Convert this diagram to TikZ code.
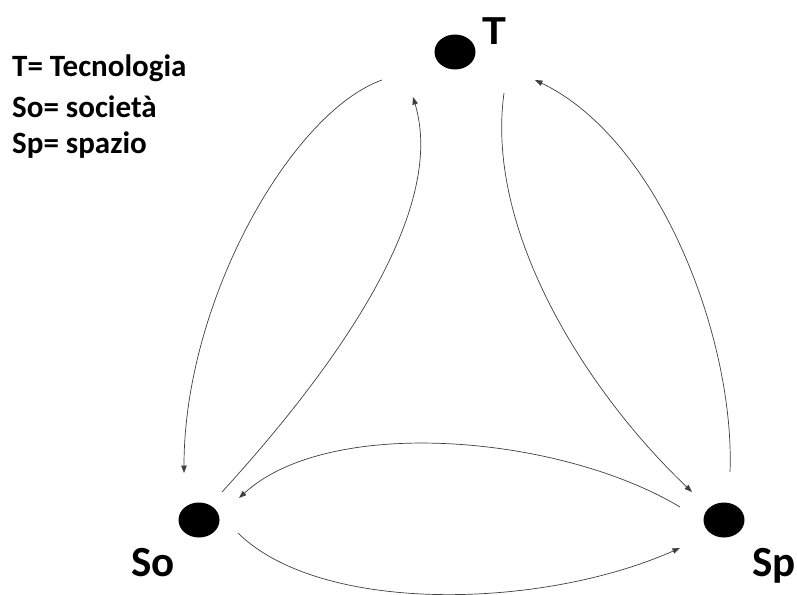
\documentclass[tikz,border=0pt]{standalone}
\usepackage{fontspec}
\setmainfont{Carlito}
\newfontfamily\arialfont{Liberation Sans}
\usetikzlibrary{arrows.meta,shapes.geometric}
\begin{document}
\begin{tikzpicture}[x=1pt,y=-1pt,
  dot/.style={ellipse,fill=black,minimum width=41pt,minimum height=35pt,inner sep=0pt},
  link/.style={draw=black!75,line width=0.7pt,-{Triangle[length=7.5pt,width=5.5pt]}},
  legend/.style={anchor=base west,font=\bfseries\fontsize{31}{31}\selectfont,inner sep=0pt},
  biglabel/.style={anchor=base,font=\bfseries\fontsize{43}{43}\selectfont,inner sep=0pt}]
\useasboundingbox[fill=white] (0,0) rectangle (797,594);
% legend
\node[legend] (l1) at (12,77) {T= Tecnologia};
\node[legend] (l2) at (12,117) {So= società};
\node[legend] (l3) at (12,153) {Sp= spazio};
% dots
\node[dot] (T) at (455,52) {};
\node[dot] (So) at (199,520) {};
\node[dot] (Sp) at (724,520) {};
% labels
\node[anchor=base,inner sep=0pt,font=\arialfont\bfseries\fontsize{39}{39}\selectfont] (tT) at (494,45) {T};
\node[biglabel] (tSo) at (153,576) {So};
\node[biglabel] (tSp) at (774,576) {Sp};
% endpoints
\coordinate (a1) at (382,80);  \coordinate (b1) at (184,473);
\coordinate (a2) at (222,492); \coordinate (b2) at (413,97);
\coordinate (a3) at (504,93);  \coordinate (b3) at (692,492);
\coordinate (a4) at (730,472); \coordinate (b4) at (535,80);
\coordinate (a5) at (680,507); \coordinate (b5) at (239,498);
\coordinate (a6) at (238,533); \coordinate (b6) at (680,548);
% connectors
\draw[link] (a1) .. controls (292,112) and (184,300) .. (b1);
\draw[link] (a2) .. controls (315,390) and (450,220) .. (b2);
\draw[link] (a3) .. controls (485,230) and (585,390) .. (b3);
\draw[link] (a4) .. controls (735,340) and (660,140) .. (b4);
\draw[link] (a5) .. controls (560,435) and (330,415) .. (b5);
\draw[link] (a6) .. controls (320,614) and (540,610) .. (b6);
\end{tikzpicture}
\end{document}
